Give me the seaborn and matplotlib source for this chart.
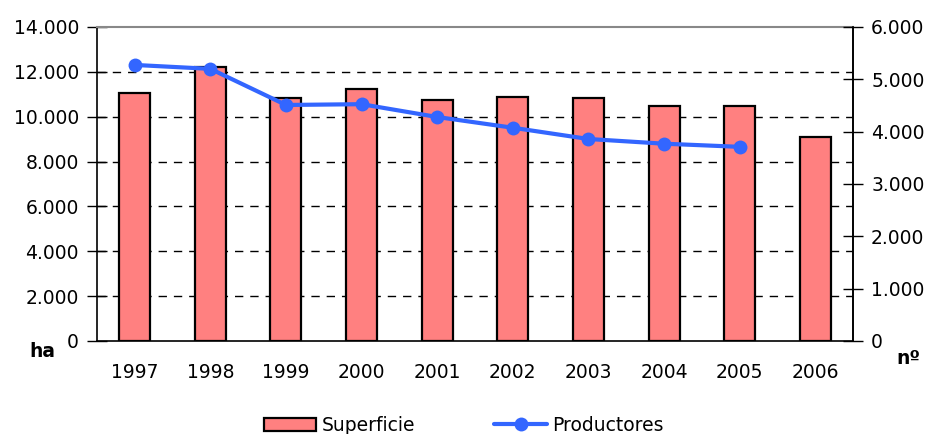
import numpy as np
import pandas as pd
import seaborn as sns
import matplotlib.pyplot as plt
from matplotlib.ticker import FuncFormatter, FixedLocator
from matplotlib.patches import Patch
from matplotlib.lines import Line2D

years = ["1997", "1998", "1999", "2000", "2001", "2002", "2003", "2004", "2005", "2006"]
superficie = [11050, 12220, 10830, 11240, 10740, 10880, 10830, 10480, 10470, 9100]
productores = [5275, 5200, 4510, 4525, 4280, 4075, 3860, 3770, 3710]

bar_color = "#FF8080"
line_color = "#3366FF"
fs = 13.5


def miles(v, pos):
    return "{:,.0f}".format(v).replace(",", ".")


sns.set_style("white")
plt.rcParams["font.family"] = ["DejaVu Sans"]
plt.rcParams["text.color"] = "black"
plt.rcParams["xtick.color"] = "black"
plt.rcParams["ytick.color"] = "black"

fig = plt.figure(figsize=(9.28, 4.34), dpi=100)
ax = fig.add_axes([0.1045, 0.2143, 0.8147, 0.7235])

df = pd.DataFrame({"year": years, "superficie": superficie})
sns.barplot(data=df, x="year", y="superficie", color=bar_color, edgecolor="black",
            linewidth=1.6, width=0.41, saturation=1, ax=ax)
ax.set_xlim(-0.5, len(years) - 0.5)
ax.set_ylim(0, 14000)
ax.set_yticks(np.arange(0, 14001, 2000))
ax.yaxis.set_major_formatter(FuncFormatter(miles))
ax.set_xlabel("")
ax.set_ylabel("")

# dashed grid
for v in range(2000, 14000, 2000):
    ax.axhline(v, color="black", linestyle=(0, (6, 5)), linewidth=1, zorder=0)

# ticks between categories
ax.tick_params(axis="x", which="major", length=0, pad=16, labelsize=fs)
ax.xaxis.set_minor_locator(FixedLocator(np.arange(-0.5, len(years), 1.0)))
ax.tick_params(axis="x", which="minor", length=14, direction="inout", width=1)
ax.tick_params(axis="y", length=14, direction="inout", width=1, labelsize=fs, pad=6)

for side in ["left", "bottom", "right"]:
    ax.spines[side].set_color("black")
    ax.spines[side].set_linewidth(1.2)
ax.spines["top"].set_color("#888888")
ax.spines["top"].set_linewidth(1.5)

ax2 = ax.twinx()
sns.lineplot(x=np.arange(len(productores)), y=productores, ax=ax2, color=line_color,
             linewidth=3, marker="o", markersize=10, markeredgewidth=0)
ax2.set_ylim(0, 6000)
ax2.set_yticks(np.arange(0, 6001, 1000))
ax2.yaxis.set_major_formatter(FuncFormatter(miles))
ax2.tick_params(axis="y", length=14, direction="inout", width=1, labelsize=fs, pad=6)
ax2.set_ylabel("")
for side in ["top", "bottom", "left"]:
    ax2.spines[side].set_visible(False)
ax2.spines["right"].set_color("black")
ax2.spines["right"].set_linewidth(1.2)

fig.text(0.032, 0.19, "ha", fontsize=fs, fontweight="bold", ha="left", va="center")
fig.text(0.992, 0.175, "nº", fontsize=fs, fontweight="bold", ha="right", va="center")

handles = [Patch(facecolor=bar_color, edgecolor="black", linewidth=1.6),
           Line2D([], [], color=line_color, linewidth=3, marker="o", markersize=10, markeredgewidth=0)]
fig.legend(handles, ["Superficie", "Productores"], loc="center", bbox_to_anchor=(0.5, 0.02),
           ncol=2, frameon=False, fontsize=fs, handlelength=2.8, handletextpad=0.3,
           columnspacing=4.2)

fig.savefig("out.png", dpi=100)
